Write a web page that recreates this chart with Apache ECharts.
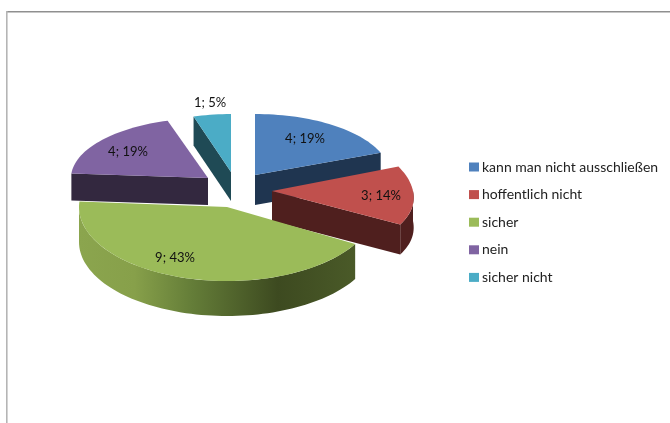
<!DOCTYPE html>
<html><head><meta charset="utf-8">
<style>html,body{margin:0;padding:0;background:#fff}#c{width:670px;height:423px}</style>
<script src="https://cdn.jsdelivr.net/npm/echarts@6/dist/echarts.min.js"></script>
</head><body><div id="c"></div>
<script>
const categories = ['kann man nicht ausschließen','hoffentlich nicht','sicher','nein','sicher nicht'];
const counts = [4,3,9,4,1];
const percentLabels = ['19%','14%','43%','19%','5%'];
const topColors = ['#4f81bd','#c0504d','#9bbb59','#8064a2','#4bacc6'];
const sideColors = ['#1f3550','#4f1f1e','#6a8438','#33283f','#1f4a55'];
// hand-read projection of each exploded slice: apex, radii, depth, perspective, label, stacking
const layout = [
  {cx:255,cy:175,rx:135,ry:61,d:30,k:0,lx:305,ly:139,z:3},
  {cx:272,cy:191,rx:141,ry:67,d:30,k:.1,lx:381,ly:196,z:4},
  {cx:227,cy:207,rx:148,ry:74,d:35,k:0,lx:175,ly:258,z:5},
  {cx:208,cy:178,rx:137,ry:60,d:27,k:0,lx:128,ly:152,z:2},
  {cx:231,cy:172,rx:127,ry:58,d:29,k:0,lx:210,ly:103,z:1}
];
const total = counts.reduce((a,b)=>a+b,0);
const greenSide = {type:'linear',x:0,y:0,x2:1,y2:0,colorStops:[
  {offset:0,color:'#8ba54e'},{offset:.2,color:'#87a04a'},{offset:.41,color:'#647d38'},{offset:.72,color:'#3d4a20'},{offset:1,color:'#4a5a28'}]};

function renderSlice(params, api){
  const i = params.seriesIndex, g = layout[i];
  let before = 0; for(let k=0;k<i;k++) before += counts[k];
  const a = before/total*360, b = (before+api.value(0))/total*360;
  const pt = (t,dy)=>{const r=t*Math.PI/180;return [g.cx+g.rx*Math.sin(r)*(1-g.k*Math.cos(r)), g.cy-g.ry*Math.cos(r)+(dy||0)];};
  const arc = (s,e,dy)=>{const o=[];const n=Math.max(2,Math.ceil((e-s)/2));for(let k=0;k<=n;k++)o.push(pt(s+(e-s)*k/n,dy));return o;};
  const side = sideColors[i];
  const children = [];
  const face = t=>({type:'polygon',shape:{points:[[g.cx,g.cy],pt(t),pt(t,g.d),[g.cx,g.cy+g.d]]},style:{fill:side}});
  if(Math.sin(a*Math.PI/180)<-1e-6) children.push(face(a));
  if(Math.sin(b*Math.PI/180)>1e-6) children.push(face(b));
  const s=Math.max(a,90), e=Math.min(b,270);
  if(e>s){
    children.push({type:'polygon',shape:{points:arc(s,e,0).concat(arc(s,e,g.d).reverse())},
      style:{fill:i===2?greenSide:side}});
  }
  children.push({type:'polygon',shape:{points:[[g.cx,g.cy]].concat(arc(a,b,0))},style:{fill:topColors[i]}});
  children.push({type:'text',z2:50,style:{x:g.lx,y:g.ly,text:api.value(0)+'; '+percentLabels[i],
    align:'center',verticalAlign:'middle',fill:'#111',font:'13px Lato'}});
  return {type:'group',children};
}

const chart = echarts.init(document.getElementById('c'),null,{renderer:'canvas'});
chart.setOption({
  animation:false,
  backgroundColor:'#fff',
  graphic:[
    {type:'rect',silent:true,shape:{x:6,y:11,width:664,height:1.5},style:{fill:'#8f8f8f'}},
    {type:'rect',silent:true,shape:{x:6,y:11,width:1.6,height:412},style:{fill:'#b5b5b5'}}
  ],
  legend:{orient:'vertical',left:464,top:154,itemWidth:10,itemHeight:9,itemGap:11.6,
    icon:'rect',data:categories,
    textStyle:{fontFamily:'Lato',fontSize:14,color:'#222',padding:[0,0,0,-2],lineHeight:16}},
  series:categories.map((name,i)=>({
    type:'custom',name,coordinateSystem:'none',z:2+layout[i].z,
    itemStyle:{color:topColors[i]},
    data:[[counts[i]]],renderItem:renderSlice,silent:true
  }))
});
</script></body></html>
